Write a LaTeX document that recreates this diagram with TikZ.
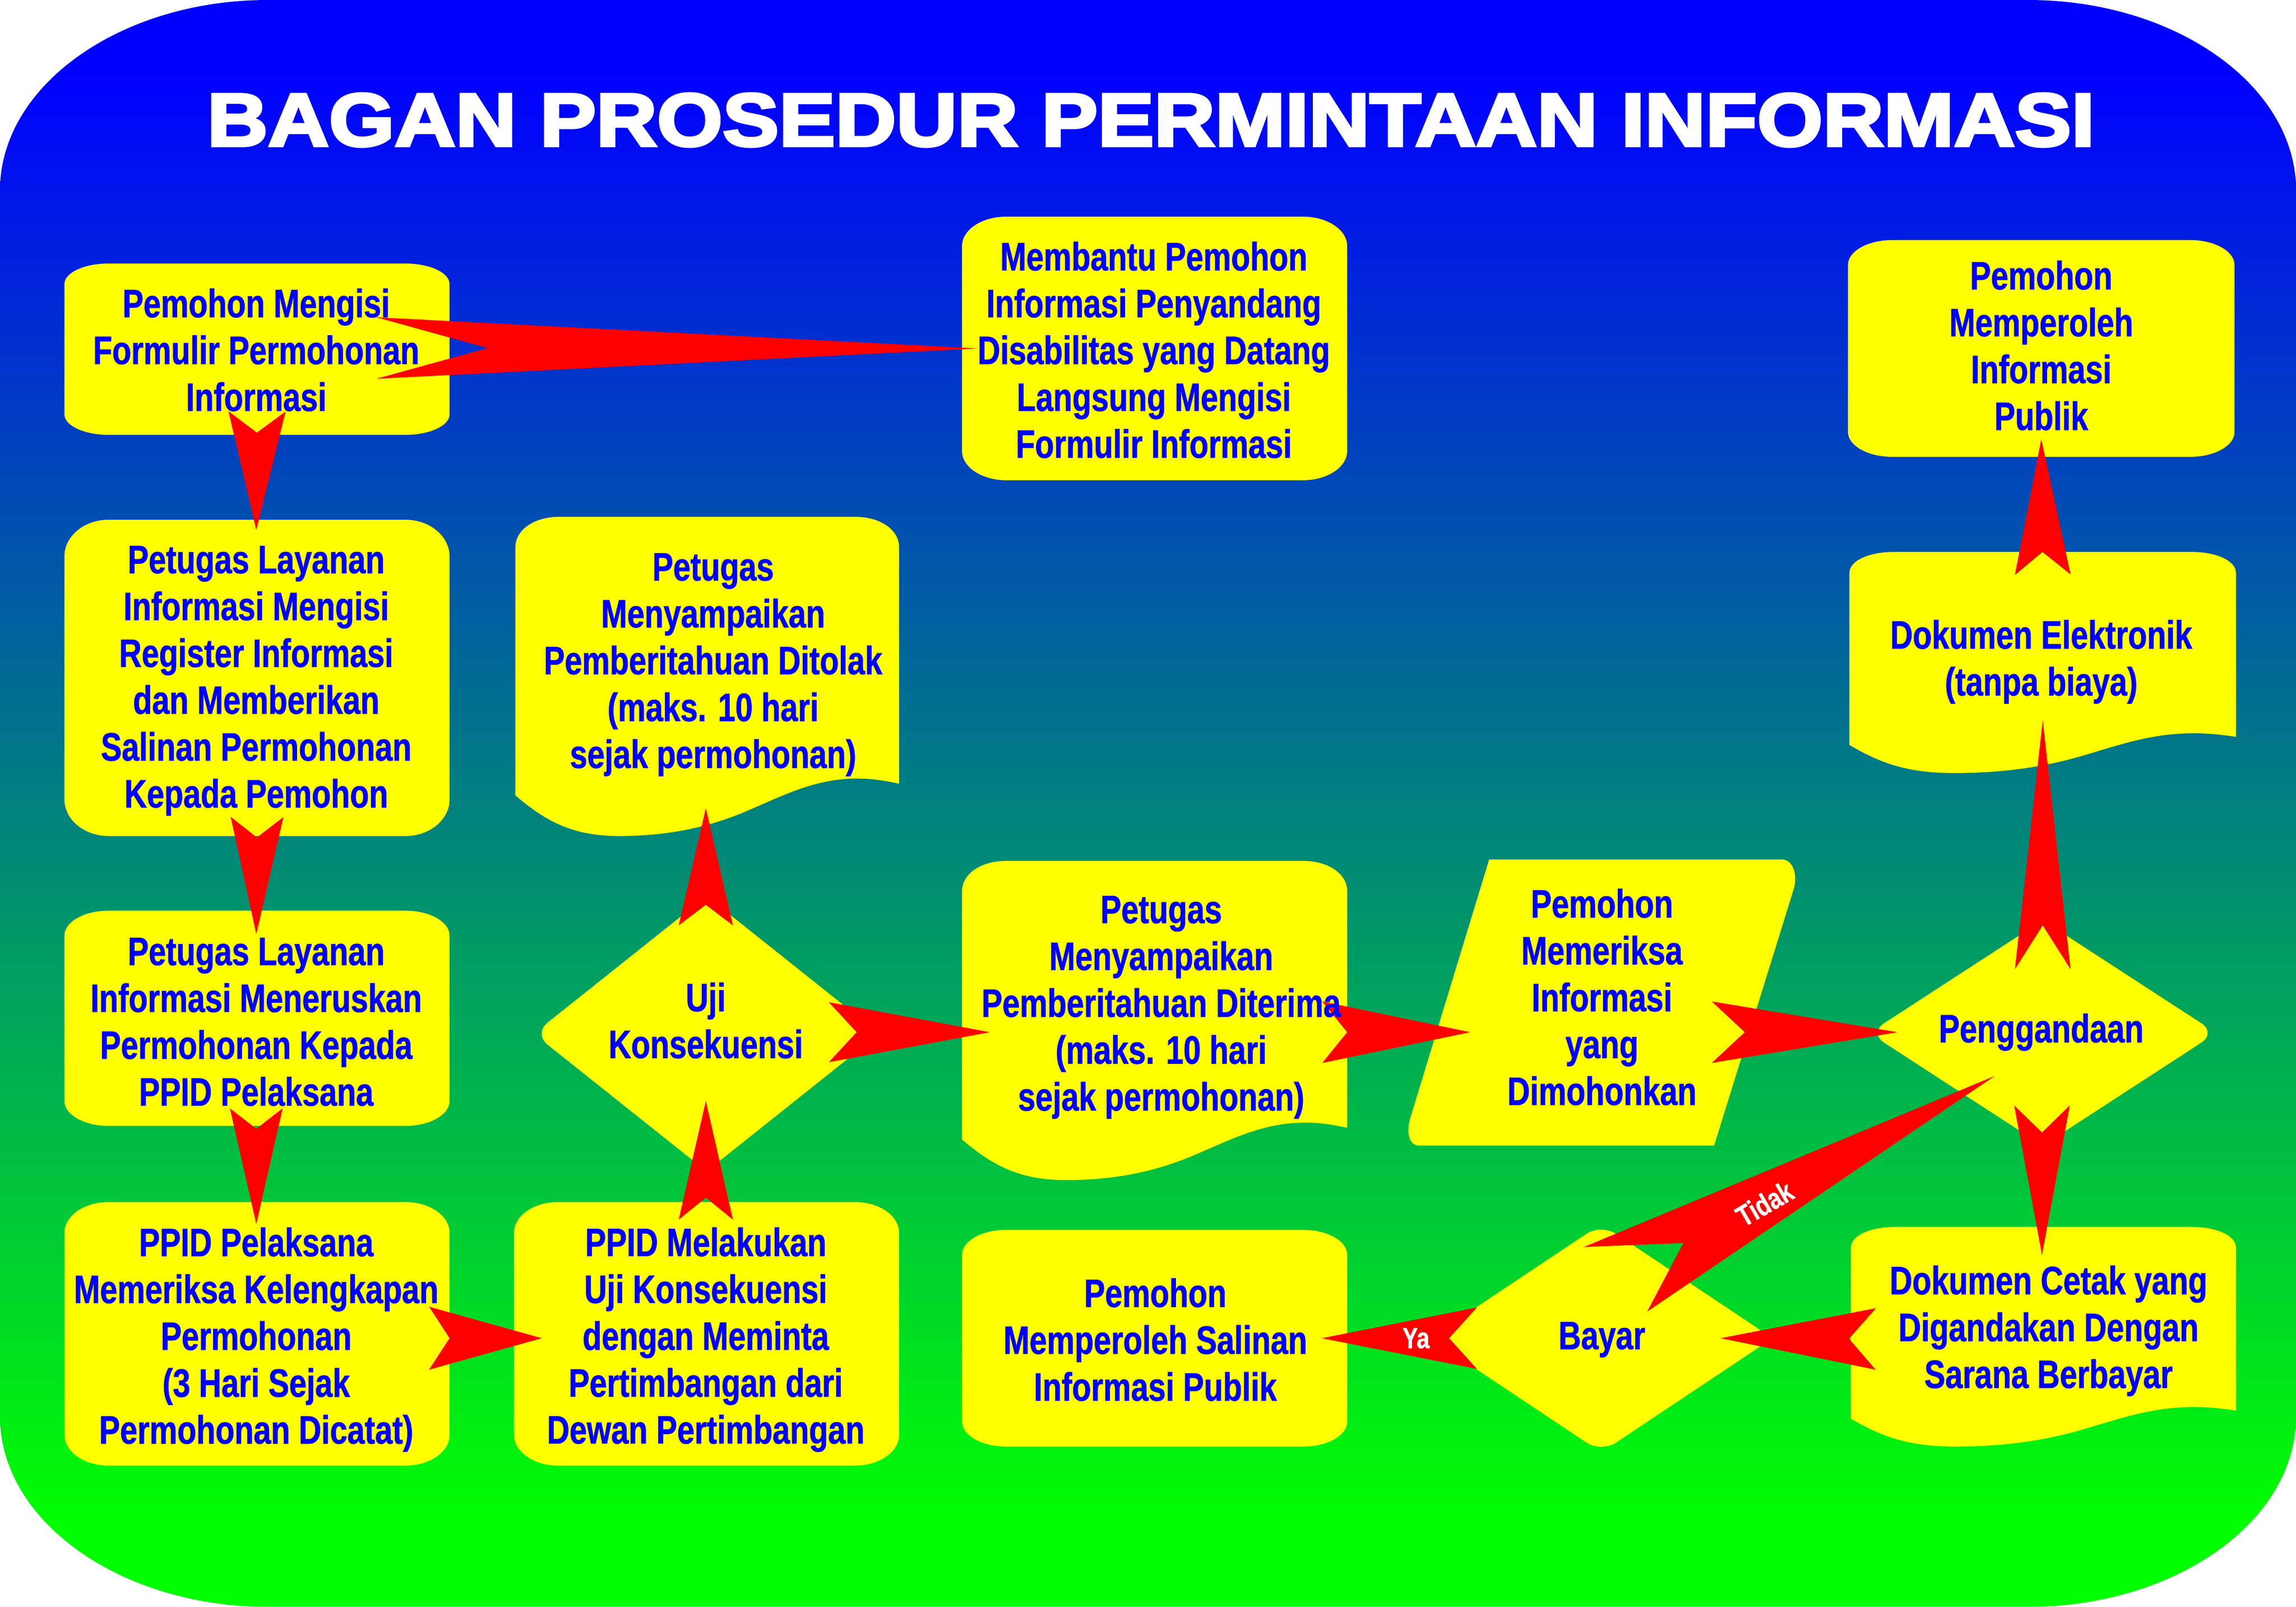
\documentclass[tikz,border=0pt]{standalone}
\usepackage{fontspec}
\usetikzlibrary{calc}
\newfontfamily\bodyf[BoldFeatures={FakeStretch=0.79,FakeBold=1}]{Liberation Sans}
\newfontfamily\titlef[BoldFeatures={FakeStretch=1.13,FakeBold=4}]{Liberation Sans}
\definecolor{bgblue}{RGB}{0,0,255}
\definecolor{bggreen}{RGB}{0,255,0}
\definecolor{boxyellow}{RGB}{255,255,0}
\definecolor{dartred}{RGB}{255,0,0}
\pgfdeclarelayer{shapes}
\pgfdeclarelayer{darts}
\pgfsetlayers{shapes,darts,main}
\pgfdeclareverticalshading{bggrad}{100bp}{color(0bp)=(bggreen);color(27.6bp)=(bggreen);color(72.7bp)=(bgblue);color(100bp)=(bgblue)}
\tikzset{
  lab/.style={font=\bodyf\bfseries\fontsize{27}{32}\selectfont,text=bgblue,align=center,inner sep=0pt},
  tinylab/.style={font=\bodyf\bfseries\fontsize{20}{24}\selectfont,text=white,align=center,inner sep=0pt},
  titlelab/.style={font=\titlef\bfseries\fontsize{51}{60}\selectfont,text=white,inner sep=0pt},
  shapefill/.style={fill=boxyellow},
  dartfill/.style={fill=dartred}
}
\newcommand\rpath[6]{({#1+#5},#2) -- ({#3-#5},#2) .. controls ({#3-.45*#5},#2) and (#3,{#2+.45*#6}) .. (#3,{#2+#6}) -- (#3,{#4-#6}) .. controls (#3,{#4-.45*#6}) and ({#3-.45*#5},#4) .. ({#3-#5},#4) -- ({#1+#5},#4) .. controls ({#1+.45*#5},#4) and (#1,{#4-.45*#6}) .. (#1,{#4-#6}) -- (#1,{#2+#6}) .. controls (#1,{#2+.45*#6}) and ({#1+.45*#5},#2) .. ({#1+#5},#2) -- cycle}
\newcommand\rbox[6]{\fill[shapefill] \rpath{#1}{#2}{#3}{#4}{#5}{#6};}
\newcommand\docbox[4]{\begin{scope}[x=#3pt,y=-#4pt,shift={(#1pt,-#2pt)}]
  \fill[shapefill] (0,.095) .. controls (0,.04) and (.05,0) .. (.114,0) -- (.886,0) .. controls (.95,0) and (1,.04) .. (1,.095) -- (1,.836) .. controls (.96,.826) and (.93,.82) .. (.89,.82) .. controls (.77,.82) and (.68,.885) .. (.58,.933) .. controls (.48,.98) and (.38,1) .. (.27,1) .. controls (.15,1) and (.08,.955) .. (0,.873) -- cycle;
\end{scope}}
\newcommand\diam[4]{\fill[shapefill,rounded corners=12pt] ({#1-#3},#2) -- (#1,{#2-#4}) -- ({#1+#3},#2) -- (#1,{#2+#4}) -- cycle;}
\newcommand\dart[6]{%
  \coordinate (dT) at ($(#1)+(#2)$);
  \coordinate (dH) at ($(#3)+(#4)$);
  \fill[dartfill] ($(dT)!#5pt!90:(dH)$) -- ($(dT)!#6pt!(dH)$) -- ($(dT)!#5pt!-90:(dH)$) -- (dH) -- cycle;}
\begin{document}
\begin{tikzpicture}[x=1pt,y=-1pt]
\useasboundingbox (0,0) rectangle (1568,1097.5);
\begin{pgfonlayer}{shapes}
\shade[shading=bggrad] \rpath{0}{0}{1568}{1097.5}{183}{130};
\rbox{44}{180}{307}{297}{30}{14}
\rbox{657}{148}{920}{328}{30}{20}
\rbox{1262}{164}{1526}{312}{30}{17}
\rbox{44}{355}{307}{571}{30}{25}
\rbox{44}{622}{307}{769}{30}{17}
\rbox{44}{821}{307}{1001}{30}{21}
\rbox{351}{821}{614}{1001}{30}{21}
\rbox{657}{840}{920}{988}{30}{17}
\docbox{352}{353}{262}{218}
\docbox{657}{588}{263}{218}
\docbox{1263}{377}{264}{151}
\docbox{1264}{838}{263}{150}
\fill[shapefill] (1017,587) -- (1217,587) .. controls (1224,587) and (1228,597) .. (1225,607) -- (1170.6,782.4) -- (969,782.4) .. controls (963,782.4) and (960,775) .. (963,764) -- cycle;
\diam{482.5}{706}{118}{94}
\diam{1395}{705.5}{118.5}{77}
\diam{1093.5}{914}{117}{78}
\end{pgfonlayer}

\node[titlelab] (title) at (786,82) {BAGAN PROSEDUR PERMINTAAN INFORMASI};
\node[lab] (n1) at (175,239) {Pemohon Mengisi\\Formulir Permohonan\\Informasi};
\node[lab] (memb) at (788,239) {Membantu Pemohon\\Informasi Penyandang\\Disabilitas yang Datang\\Langsung Mengisi\\Formulir Informasi};
\node[lab] (atas) at (1394,236) {Pemohon\\Memperoleh\\Informasi\\Publik};
\node[lab] (n2) at (175,465) {Petugas Layanan\\Informasi Mengisi\\Register Informasi\\dan Memberikan\\Salinan Permohonan\\Kepada Pemohon};
\node[lab] (ditolak) at (487,454) {Petugas\\Menyampaikan\\Pemberitahuan Ditolak\\(maks. 10 hari\\sejak permohonan)};
\node[lab] (n3) at (175,698) {Petugas Layanan\\Informasi Meneruskan\\Permohonan Kepada\\PPID Pelaksana};
\node[lab] (diterima) at (793,688) {Petugas\\Menyampaikan\\Pemberitahuan Diterima\\(maks. 10 hari\\sejak permohonan)};
\node[lab] (memeriksa) at (1094,681) {Pemohon\\Memeriksa\\Informasi\\yang\\Dimohonkan};
\node[lab] (uji) at (482,697) {Uji\\Konsekuensi};
\node[lab] (pengg) at (1394,705) {Penggandaan};
\node[lab] (dokel) at (1394,452) {Dokumen Elektronik\\(tanpa biaya)};
\node[lab] (n4) at (175,915) {PPID Pelaksana\\Memeriksa Kelengkapan\\Permohonan\\(3 Hari Sejak\\Permohonan Dicatat)};
\node[lab] (n5) at (482,915) {PPID Melakukan\\Uji Konsekuensi\\dengan Meminta\\Pertimbangan dari\\Dewan Pertimbangan};
\node[lab] (salinan) at (789,915) {Pemohon\\Memperoleh Salinan\\Informasi Publik};
\node[lab] (bayar) at (1094,915) {Bayar};
\node[lab] (dokcetak) at (1399,909) {Dokumen Cetak yang\\Digandakan Dengan\\Sarana Berbayar};
\node[tinylab] (ya) at (967,914) {Ya};
\node[tinylab,rotate=30] (tidak) at (1205,822) {Tidak};

\begin{pgfonlayer}{darts}
\dart{n1}{82,-1.3}{memb}{-120,-1}{21}{76}
\dart{n1}{0.5,42}{n2}{0,-103}{19.5}{14.5}
\dart{n2}{0.5,93}{n3}{0,-60}{18}{14}
\dart{n3}{0,59}{n4}{0,-79}{18}{14}
\dart{n4}{118,-1}{n5}{-112,-1}{21.5}{14}
\dart{n5}{0,-82}{uji}{0,55}{18.5}{15}
\dart{uji}{0,-65}{ditolak}{-5,98}{18.5}{14}
\dart{uji}{84,8}{diterima}{-117,17}{20.5}{19}
\dart{diterima}{110,17}{memeriksa}{-90,24}{21}{17}
\dart{memeriksa}{75,24}{pengg}{-98,0}{21}{22.5}
\dart{pengg}{1,-43}{dokel}{1,40}{19}{30}
\dart{dokel}{1,-59.5}{atas}{0,64}{19}{15.5}
\dart{pengg}{0.5,50}{dokcetak}{-4.5,-52}{19}{18.5}
\dart{dokcetak}{-118,5.5}{bayar}{81,-1}{21}{18.3}
\dart{bayar}{-85.4,-1}{salinan}{113.7,-1}{21}{19}
\fill[dartfill] ($(bayar)+(-12.3,-63.3)$) -- ($(bayar)+(55.6,-66)$) -- ($(bayar)+(30.9,-19.2)$) -- ($(pengg)+(-32,30)$) -- cycle;
\end{pgfonlayer}
\end{tikzpicture}
\end{document}
